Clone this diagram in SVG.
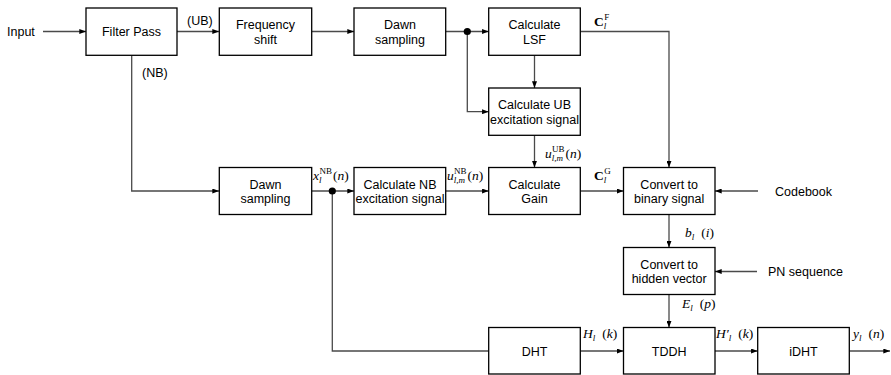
<svg xmlns="http://www.w3.org/2000/svg" width="891" height="375" viewBox="0 0 891 375">
<defs>
<style>
.box{fill:#fff;stroke:#000;stroke-width:1.3}
.t{font-family:"Liberation Sans",Arial,sans-serif;font-size:12.5px;fill:#000;text-anchor:middle}
.lab{font-family:"Liberation Sans",Arial,sans-serif;font-size:12.5px;fill:#000}
.m{font-family:"Liberation Serif","DejaVu Serif",serif;font-size:13.5px;fill:#000}
.i{font-style:italic}
.s{font-size:9px}
.c{fill:none;stroke:#4a4a4a;stroke-width:1.3}
</style>
<marker id="ah" viewBox="0 0 8 6" refX="8" refY="3" markerWidth="7" markerHeight="5" markerUnits="userSpaceOnUse" orient="auto">
<path d="M0,0 L8,3 L0,6 Z" fill="#000"/>
</marker>
</defs>

<g id="connectors">
<path class="c" d="M43,31.5 H86" marker-end="url(#ah)"/>
<path class="c" d="M177,31.5 H219" marker-end="url(#ah)"/>
<path class="c" d="M311.7,31.5 H354" marker-end="url(#ah)"/>
<path class="c" d="M445.7,31.5 H488.7" marker-end="url(#ah)"/>
<path class="c" d="M467.3,31.5 V111.7 H488.7" marker-end="url(#ah)"/>
<path class="c" d="M534.5,55.3 V88" marker-end="url(#ah)"/>
<path class="c" d="M534.5,135.3 V167.5" marker-end="url(#ah)"/>
<path class="c" d="M580.3,31.5 H669 V167.5" marker-end="url(#ah)"/>
<path class="c" d="M131.7,55.3 V191 H219" marker-end="url(#ah)"/>
<path class="c" d="M311.7,191 H354" marker-end="url(#ah)"/>
<path class="c" d="M445.7,191 H488.7" marker-end="url(#ah)"/>
<path class="c" d="M580.3,191 H623.5" marker-end="url(#ah)"/>
<path class="c" d="M758,191 H715" marker-end="url(#ah)"/>
<path class="c" d="M669,214.5 V247.5" marker-end="url(#ah)"/>
<path class="c" d="M757,271.5 H715" marker-end="url(#ah)"/>
<path class="c" d="M669,294.5 V327.5" marker-end="url(#ah)"/>
<path class="c" d="M332.3,191 V351 H488.7"/>
<path class="c" d="M580.3,351 H623.5" marker-end="url(#ah)"/>
<path class="c" d="M715,351 H757.7" marker-end="url(#ah)"/>
<path class="c" d="M849.3,351 H890" marker-end="url(#ah)"/>
<circle cx="467.3" cy="31.5" r="3.6" fill="#000"/>
<circle cx="332.3" cy="191" r="3.6" fill="#000"/>
</g>

<g id="n-filter"><rect class="box" x="86" y="8" width="91" height="47.3"/><text class="t" x="131.5" y="36">Filter Pass</text></g>
<g id="n-freq"><rect class="box" x="219.3" y="8" width="92.4" height="47.3"/><text class="t" x="265.5" y="29">Frequency<tspan x="265.5" dy="14.8">shift</tspan></text></g>
<g id="n-dawn1"><rect class="box" x="354" y="8" width="91.7" height="47.3"/><text class="t" x="400" y="29">Dawn<tspan x="400" dy="14.8">sampling</tspan></text></g>
<g id="n-lsf"><rect class="box" x="488.7" y="8" width="91.6" height="47.3"/><text class="t" x="534.5" y="29">Calculate<tspan x="534.5" dy="14.8">LSF</tspan></text></g>
<g id="n-ub"><rect class="box" x="488.7" y="88" width="91.6" height="47.3"/><text class="t" x="534.5" y="109.3">Calculate UB<tspan x="534.5" dy="14.8">excitation signal</tspan></text></g>
<g id="n-dawn2"><rect class="box" x="219.3" y="167.5" width="92.4" height="47"/><text class="t" x="265.5" y="188.5">Dawn<tspan x="265.5" dy="14.8">sampling</tspan></text></g>
<g id="n-nb"><rect class="box" x="354" y="167.5" width="91.7" height="47"/><text class="t" x="400" y="188.5">Calculate NB<tspan x="400" dy="14.8">excitation signal</tspan></text></g>
<g id="n-gain"><rect class="box" x="488.7" y="167.5" width="91.6" height="47"/><text class="t" x="534.5" y="188.5">Calculate<tspan x="534.5" dy="14.8">Gain</tspan></text></g>
<g id="n-binary"><rect class="box" x="623.5" y="167.5" width="91.5" height="47"/><text class="t" x="669.2" y="188.5">Convert to<tspan x="669.2" dy="14.8">binary signal</tspan></text></g>
<g id="n-hidden"><rect class="box" x="623.5" y="247.5" width="91.5" height="47"/><text class="t" x="669.2" y="268.5">Convert to<tspan x="669.2" dy="14.8">hidden vector</tspan></text></g>
<g id="n-dht"><rect class="box" x="488.7" y="327.5" width="91.6" height="46.5"/><text class="t" x="534.5" y="355.5">DHT</text></g>
<g id="n-tddh"><rect class="box" x="623.5" y="327.5" width="91.5" height="46.5"/><text class="t" x="669.2" y="355.5">TDDH</text></g>
<g id="n-idht"><rect class="box" x="757.7" y="327.5" width="91.6" height="46.5"/><text class="t" x="803.5" y="355.5">iDHT</text></g>

<g id="labels">
<text class="lab" x="7" y="36">Input</text>
<text class="lab" x="187" y="25">(UB)</text>
<text class="lab" x="142" y="77">(NB)</text>
<text class="lab" x="775" y="196">Codebook</text>
<text class="lab" x="768" y="276">PN sequence</text>

<text class="m" x="313" y="180"><tspan class="i">x</tspan><tspan class="s i" dy="3">l</tspan><tspan class="s" dx="-2" dy="-9">NB</tspan><tspan dx="1" dy="6">(</tspan><tspan class="i">n</tspan>)</text>
<text class="m" x="447" y="180"><tspan class="i">u</tspan><tspan class="s i" dy="3">l,m</tspan><tspan class="s" dx="-11" dy="-9">NB</tspan><tspan dx="1" dy="6">(</tspan><tspan class="i">n</tspan>)</text>
<text class="m" x="545" y="158"><tspan class="i">u</tspan><tspan class="s i" dy="3">l,m</tspan><tspan class="s" dx="-11" dy="-9">UB</tspan><tspan dx="1" dy="6">(</tspan><tspan class="i">n</tspan>)</text>
<text class="m" x="594" y="26"><tspan font-weight="bold">C</tspan><tspan class="s i" dy="3">l</tspan><tspan class="s" dx="-2" dy="-9">F</tspan></text>
<text class="m" x="594" y="180"><tspan font-weight="bold">C</tspan><tspan class="s i" dy="3">l</tspan><tspan class="s" dx="-2" dy="-9">G</tspan></text>
<text class="m" x="685" y="237"><tspan class="i">b</tspan><tspan class="s i" dy="3">l</tspan><tspan dx="7" dy="-3">(</tspan><tspan class="i">i</tspan>)</text>
<text class="m" x="682" y="308"><tspan class="i">E</tspan><tspan class="s i" dy="3">l</tspan><tspan dx="7" dy="-3">(</tspan><tspan class="i">p</tspan>)</text>
<text class="m" x="583" y="338"><tspan class="i">H</tspan><tspan class="s i" dy="3">l</tspan><tspan dx="7" dy="-3">(</tspan><tspan class="i">k</tspan>)</text>
<text class="m" x="716" y="338"><tspan class="i">H′</tspan><tspan class="s i" dy="3">l</tspan><tspan dx="7" dy="-3">(</tspan><tspan class="i">k</tspan>)</text>
<text class="m" x="853" y="338"><tspan class="i">y</tspan><tspan class="s i" dy="3">l</tspan><tspan dx="7" dy="-3">(</tspan><tspan class="i">n</tspan>)</text>
</g>
</svg>
